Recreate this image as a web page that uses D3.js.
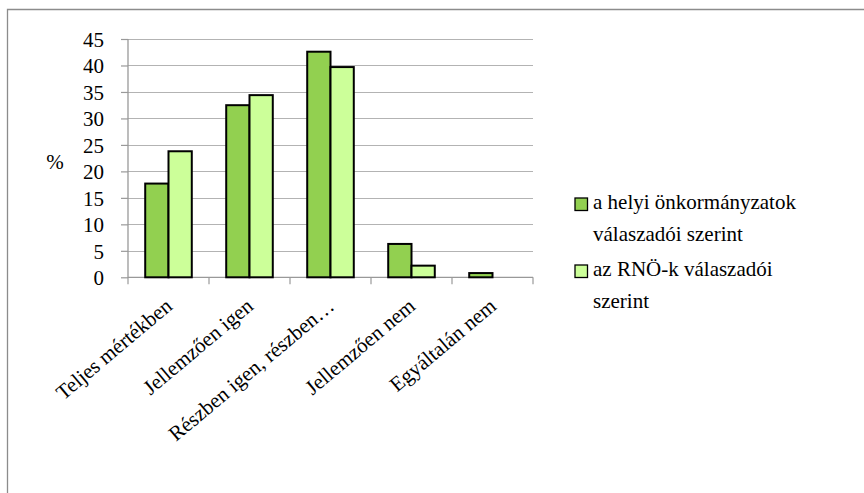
<!DOCTYPE html>
<html>
<head>
<meta charset="utf-8">
<script src="https://cdn.jsdelivr.net/npm/d3@7"></script>
<style>
  html, body { margin: 0; padding: 0; background: #fff; }
  svg { display: block; }
</style>
</head>
<body>
<svg id="chart" width="864" height="493"></svg>
<script>
// Answer categories
const categories = ["Teljes mértékben", "Jellemzően igen", "Részben igen, részben…", "Jellemzően nem", "Egyáltalán nem"];
// Series names (legend lines)
const seriesNames = [
  ["a helyi önkormányzatok", "válaszadói szerint"],
  ["az RNÖ-k válaszadói", "szerint"]
];
// Percentages per category
const localGov = [17.7, 32.5, 42.6, 6.3, 0.8];
const rnoResp = [23.8, 34.4, 39.7, 2.2, 0];
const yTicks = [0, 5, 10, 15, 20, 25, 30, 35, 40, 45];
const colors = ["#92d050", "#ccff99"];

const FONT = '"Liberation Serif"';
const FS = 21;

const svg = d3.select("#chart");
const W = 864, H = 493;

function serif(sel, size) {
  return sel.style("font-family", FONT).style("font-size", size + "px").attr("fill", "#000");
}

// outer frame
svg.append("path")
  .attr("d", `M7.5,${H} V9.5 H${W}`)
  .attr("fill", "none").attr("stroke", "#8c8c8c").attr("stroke-width", 1.3);

const plot = { left: 128, right: 533, top: 39, bottom: 277.3 };

const y = d3.scaleLinear().domain([0, 45]).range([plot.bottom, plot.top]);
const x0 = d3.scaleBand().domain(categories).range([plot.left, plot.right])
  .paddingInner(0.425).paddingOuter(0.2125);
const x1 = d3.scaleBand().domain([0, 1]).range([0, x0.bandwidth()]);

const g = svg.append("g");

// horizontal gridlines
g.append("g").selectAll("line").data(yTicks).join("line")
  .attr("x1", plot.left).attr("x2", plot.right)
  .attr("y1", d => Math.round(y(d)) + 0.5).attr("y2", d => Math.round(y(d)) + 0.5)
  .attr("stroke", "#b3b3b3").attr("stroke-width", 1.2);

// y axis
const yAxis = g.append("g").attr("transform", `translate(${plot.left},0)`)
  .call(d3.axisLeft(y).tickValues(yTicks).tickSize(7).tickPadding(17).tickFormat(d3.format("d")));
yAxis.attr("font-family", null).attr("font-size", null);
yAxis.select(".domain").attr("stroke", "#999").attr("stroke-width", 1.3).attr("d", `M0,${plot.top}V${plot.bottom + 0.5}`);
yAxis.selectAll(".tick line").attr("stroke", "#999").attr("stroke-width", 1.2);
serif(yAxis.selectAll(".tick text"), FS).attr("dy", "0.35em");

// category axis tick marks at band boundaries
const step = x0.step();
const bounds = d3.range(categories.length + 1).map(i => plot.left + i * step);
g.append("g").selectAll("line").data(bounds).join("line")
  .attr("x1", d => d).attr("x2", d => d)
  .attr("y1", plot.bottom).attr("y2", plot.bottom + 7)
  .attr("stroke", "#999").attr("stroke-width", 1.2);
g.append("line")
  .attr("x1", plot.left).attr("x2", plot.right)
  .attr("y1", plot.bottom).attr("y2", plot.bottom)
  .attr("stroke", "#999").attr("stroke-width", 1.3);

// bars
const series = [localGov, rnoResp];
series.forEach((vals, si) => {
  g.append("g").selectAll("rect").data(vals.map((v, i) => ({ v, c: categories[i] })).filter(d => d.v > 0))
    .join("rect")
    .attr("x", d => x0(d.c) + x1(si))
    .attr("y", d => y(d.v))
    .attr("width", x1.bandwidth())
    .attr("height", d => y(0) - y(d.v))
    .attr("fill", colors[si])
    .attr("stroke", "#000").attr("stroke-width", 2);
});

// "%" axis title
serif(svg.append("text"), FS)
  .attr("text-anchor", "middle")
  .attr("x", 55).attr("y", 169)
  .text("%");

// rotated category labels
serif(g.append("g").selectAll("text").data(categories).join("text"), FS)
  .attr("text-anchor", "end")
  .attr("transform", d => `translate(${x0(d) + x0.bandwidth() / 2 + 5},${plot.bottom + 31}) rotate(-40)`)
  .text(d => d);

// legend
const legend = svg.append("g");
const legendBase = [209, 276];
seriesNames.forEach((lines, i) => {
  legend.append("rect")
    .attr("x", 575).attr("y", legendBase[i] - 11)
    .attr("width", 12.5).attr("height", 12.5)
    .attr("fill", colors[i]).attr("stroke", "#000").attr("stroke-width", 1.3);
  const t = serif(legend.append("text"), FS).attr("x", 593).attr("y", legendBase[i]);
  lines.forEach((ln, j) => {
    t.append("tspan").attr("x", 593).attr("dy", j === 0 ? 0 : 32).text(ln);
  });
});
</script>
</body>
</html>
